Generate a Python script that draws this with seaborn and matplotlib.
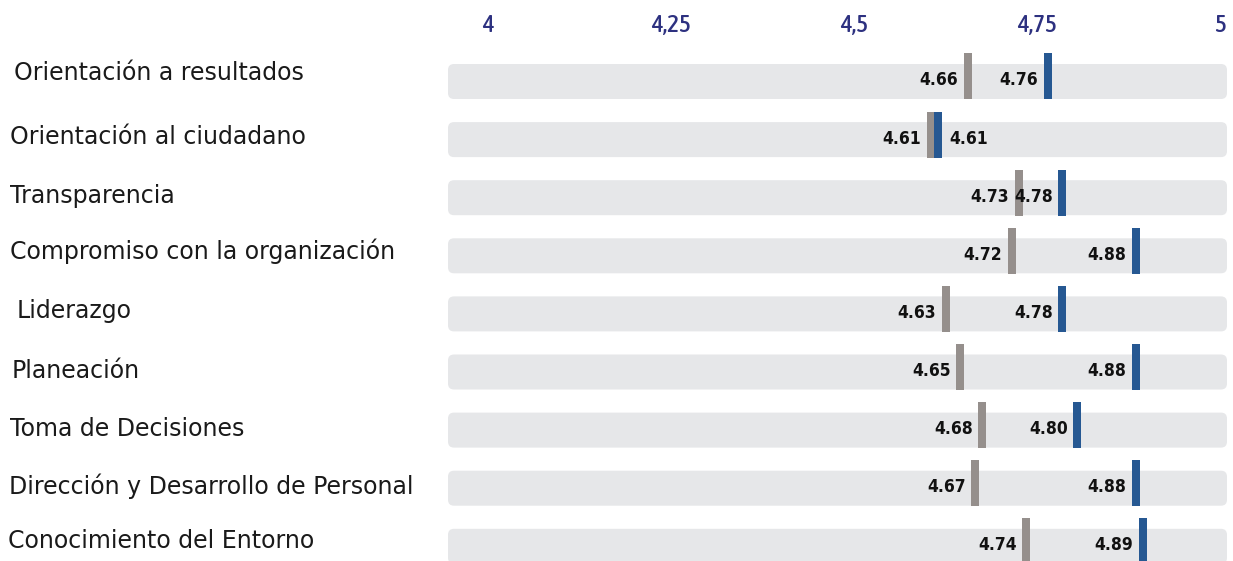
import matplotlib
matplotlib.use('Agg')
import matplotlib.pyplot as plt
from matplotlib import font_manager
from matplotlib.font_manager import FontProperties
from matplotlib.patches import FancyBboxPatch
from matplotlib.transforms import blended_transform_factory, offset_copy
import pandas as pd
import seaborn as sns

# -------------------------------------------
# Datos: promedio por competencia (gris vs azul)
# -------------------------------------------
competencias = [
    'Orientación a resultados',
    'Orientación al ciudadano',
    'Transparencia',
    'Compromiso con la organización',
    'Liderazgo',
    'Planeación',
    'Toma de Decisiones',
    'Dirección y Desarrollo de Personal',
    'Conocimiento del Entorno',
]
gris = [4.66, 4.61, 4.73, 4.72, 4.63, 4.65, 4.68, 4.67, 4.74]
azul = [4.76, 4.61, 4.78, 4.88, 4.78, 4.88, 4.80, 4.88, 4.89]

df = pd.DataFrame({'competencia': competencias, 'gris': gris, 'azul': azul})
df['pos'] = range(len(df))

GRIS = '#958f8c'
AZUL = '#265892'
FONDO = '#e6e7e9'
NAVY = '#2d3180'


def buscar_angosta(peso):
    # busca una fuente condensada instalada (Narrow / Condensed)
    cands = []
    for f in font_manager.fontManager.ttflist:
        nombre = (f.name + ' ' + f.fname).lower()
        if ('narrow' in nombre or 'condensed' in nombre) and 'italic' not in nombre \
                and 'oblique' not in nombre:
            w = f.weight if isinstance(f.weight, int) else 400
            cands.append((abs(w - peso), 'light' in nombre, f.fname))
    if not cands:
        return None
    cands.sort()
    return cands[0][2]


sns.set_theme(style='white')
plt.rcParams['font.family'] = ['DejaVu Sans']

ruta_bold = buscar_angosta(700)
ruta_reg = buscar_angosta(500)
if ruta_bold:
    f_valor = FontProperties(fname=ruta_bold, size=12.5)
    f_tick = FontProperties(fname=ruta_reg, size=18)
else:
    f_valor = FontProperties(family='Liberation Sans', weight='bold', size=11.5)
    f_tick = FontProperties(family='Liberation Sans', size=15)

W, H = 1233, 561
fig = plt.figure(figsize=(W / 100, H / 100), dpi=100)

# escala: 4 -> px 488, 5 -> px 1220
px_unidad = 732
x_izq = 4 + (448 - 488) / px_unidad
x_der = 4 + (1227 - 488) / px_unidad
fila_px = 58.1
top_px = 45
ax = fig.add_axes([448 / W, 0, (W - 448) / W, (H - top_px) / H])
ax.set_xlim(x_izq, 4 + (W - 488) / px_unidad)
ax.set_ylim((H - 81.5) / fila_px, (top_px - 81.5) / fila_px)

# barras de fondo redondeadas
alto = 35 / fila_px
r = 6 / px_unidad
for p in df['pos']:
    ax.add_patch(FancyBboxPatch((x_izq, p - alto / 2), x_der - x_izq, alto,
                                boxstyle=f'round,pad=0,rounding_size={r}',
                                mutation_aspect=(6 / fila_px) / r,
                                fc=FONDO, ec='none', zorder=1))

# marcadores verticales
marca = [(-0.0978, -0.5), (0.0978, -0.5), (0.0978, 0.5), (-0.0978, 0.5), (-0.0978, -0.5)]
dy = -5 / fila_px
for col, color, dx in [('gris', GRIS, -3.5), ('azul', AZUL, 3.5)]:
    sns.scatterplot(x=df[col], y=df['pos'] + dy, color=color, marker=marca,
                    s=1097, linewidth=0, ax=ax, zorder=3)
    ax.collections[-1].set_offset_transform(
        offset_copy(ax.transData, fig=fig, x=dx, y=0, units='dots'))

# etiquetas de valores
for _, fila in df.iterrows():
    ax.annotate(f"{fila['gris']:.2f}", xy=(fila['gris'], fila['pos']), xytext=(-13, 3),
                textcoords='offset pixels', ha='right', va='center_baseline',
                fontproperties=f_valor, color='#111111', zorder=4)
    if abs(fila['azul'] - fila['gris']) < 0.03:
        xt, ha = 15, 'left'
    else:
        xt, ha = -6, 'right'
    ax.annotate(f"{fila['azul']:.2f}", xy=(fila['azul'], fila['pos']), xytext=(xt, 3),
                textcoords='offset pixels', ha=ha, va='center_baseline',
                fontproperties=f_valor, color='#111111', zorder=4)

# nombres de competencias (posición en píxeles como en el original)
sangria = [14, 10, 10, 10, 17, 12, 10, 9, 8]
alto_texto = [73, 137, 196, 251, 311, 371, 429, 486, 541]
trans = blended_transform_factory(fig.transFigure, ax.transData)
for p, nombre in zip(df['pos'], df['competencia']):
    y = (alto_texto[p] - 81.5) / fila_px
    ax.text(sangria[p] / W, y, nombre, transform=trans, ha='left', va='center',
            fontsize=17, color='#1a1a1a')

# eje superior
ax.set_xticks([4, 4.25, 4.5, 4.75, 5])
ax.set_xticklabels(['4', '4,25', '4,5', '4,75', '5'], fontproperties=f_tick, color=NAVY)
ax.xaxis.tick_top()
ax.tick_params(axis='x', length=0, pad=6)
ax.set_yticks([])
ax.set_xlabel('')
ax.set_ylabel('')
for s in ax.spines.values():
    s.set_visible(False)
ax.patch.set_alpha(0)

fig.savefig('out.png', dpi=100)
